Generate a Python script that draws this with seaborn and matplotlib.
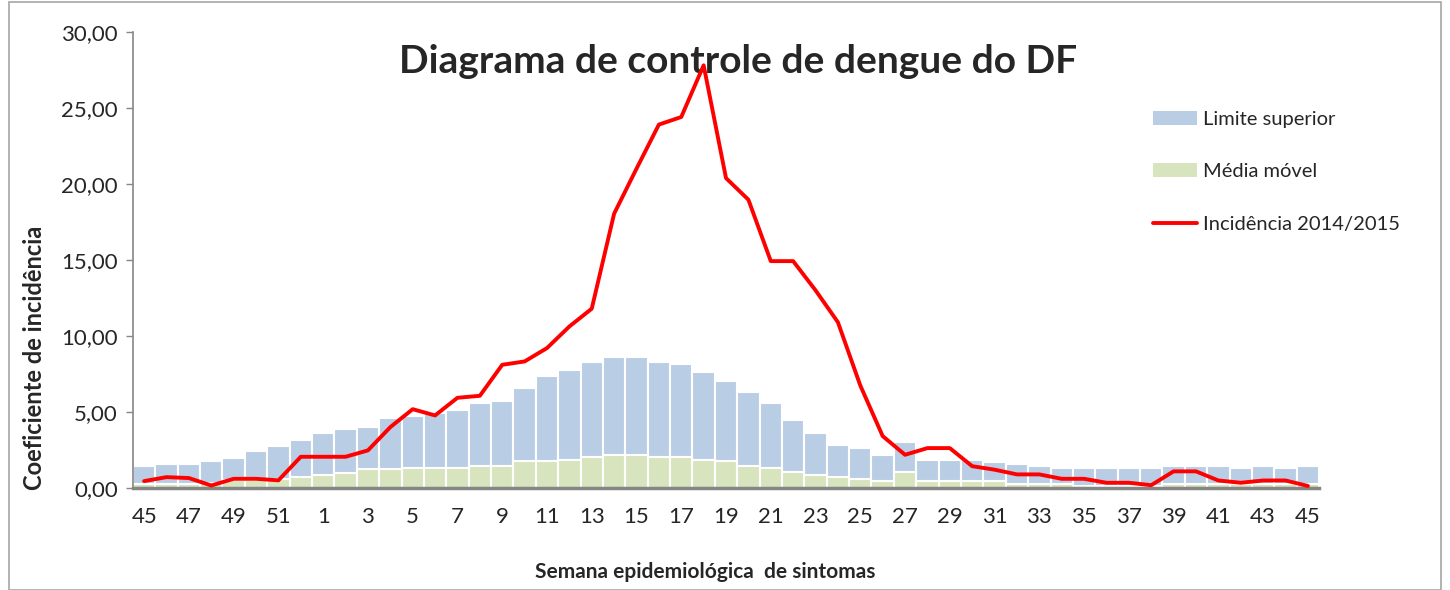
import numpy as np
import pandas as pd
import matplotlib
matplotlib.use("Agg")
import matplotlib.pyplot as plt
import seaborn as sns
from matplotlib.patches import Patch, Rectangle
from matplotlib.lines import Line2D
from matplotlib.ticker import FuncFormatter

# Semanas epidemiologicas (45/2014 ate 45/2015)
semanas = list(range(45, 53)) + list(range(1, 46))

limite_superior = [1.45, 1.6, 1.6, 1.75, 2.0, 2.45, 2.75, 3.15, 3.6, 3.85,
                   4.0, 4.6, 4.75, 4.9, 5.15, 5.6, 5.75, 6.6, 7.35, 7.75,
                   8.3, 8.6, 8.6, 8.3, 8.15, 7.6, 7.05, 6.3, 5.6, 4.45,
                   3.6, 2.85, 2.6, 2.15, 3.0, 1.85, 1.85, 1.85, 1.7, 1.6,
                   1.45, 1.3, 1.3, 1.3, 1.3, 1.3, 1.45, 1.45, 1.45, 1.3,
                   1.45, 1.3, 1.45]

media_movel = [0.28, 0.28, 0.28, 0.3, 0.5, 0.5, 0.6, 0.7, 0.87, 1.0,
               1.22, 1.22, 1.33, 1.33, 1.33, 1.46, 1.46, 1.74, 1.74, 1.87,
               2.05, 2.18, 2.18, 2.05, 2.05, 1.87, 1.74, 1.46, 1.33, 1.02,
               0.87, 0.73, 0.58, 0.45, 1.02, 0.46, 0.46, 0.46, 0.46, 0.28,
               0.28, 0.28, 0.13, 0.13, 0.13, 0.13, 0.28, 0.28, 0.28, 0.28,
               0.28, 0.28, 0.28]

incidencia = [0.45, 0.71, 0.65, 0.16, 0.6, 0.6, 0.5, 2.05, 2.05, 2.05,
              2.47, 4.0, 5.18, 4.77, 5.93, 6.06, 8.1, 8.32, 9.2, 10.62,
              11.79, 18.04, 21.0, 23.9, 24.4, 27.8, 20.38, 18.96, 14.92, 14.92,
              13.0, 10.9, 6.74, 3.41, 2.18, 2.62, 2.62, 1.43, 1.2, 0.89,
              0.89, 0.6, 0.6, 0.34, 0.34, 0.18, 1.09, 1.09, 0.49, 0.34,
              0.49, 0.49, 0.13]

df = pd.DataFrame({
    'pos': np.arange(len(semanas)),
    'Limite': limite_superior,
    'Media': media_movel,
    'Incidencia': incidencia,
})

sns.set_style('white')
plt.rcParams['font.family'] = ['Lato', 'DejaVu Sans']

fig = plt.figure(figsize=(14.5, 5.9), dpi=100)
ax = fig.add_axes([0.0917, 0.173, 0.818, 0.773])

azul = '#B9CDE5'
verde = '#D7E4BD'
vermelho = '#FF0000'

sns.barplot(data=df, x='pos', y='Limite', color=azul, saturation=1,
            width=1.0, edgecolor='white', linewidth=1.5, ax=ax)
sns.barplot(data=df, x='pos', y='Media', color=verde, saturation=1,
            width=1.0, edgecolor='white', linewidth=1.5, ax=ax)
sns.lineplot(data=df, x='pos', y='Incidencia', color=vermelho, linewidth=2.8,
             ax=ax, zorder=5)

ax.set_xlim(-0.5, len(semanas) - 0.5)
ax.set_ylim(0, 30)
ax.set_yticks(np.arange(0, 31, 5))
ax.yaxis.set_major_formatter(FuncFormatter(lambda v, p: f'{v:.2f}'.replace('.', ',')))
ax.set_xticks(df['pos'][::2])
ax.set_xticklabels([str(s) for s in semanas[::2]])
ax.tick_params(axis='y', labelsize=16, length=5, width=1, color='#868686',
               direction='out', left=True, pad=6)
ax.tick_params(axis='x', labelsize=16, length=0, pad=14)

for s in ['top', 'right']:
    ax.spines[s].set_visible(False)
ax.spines['left'].set_color('#868686')
ax.spines['left'].set_linewidth(1.2)
ax.spines['bottom'].set_color('#868686')
ax.spines['bottom'].set_linewidth(2.5)
ax.set_xlabel('')
ax.set_ylabel('')

ax.text(0.51, 0.935, 'Diagrama de controle de dengue do DF', transform=ax.transAxes,
        ha='center', va='center', fontsize=28, fontweight='bold')

fig.text(0.486, 0.03, 'Semana epidemiológica  de sintomas', ha='center', va='center',
         fontsize=15, fontweight='bold')
fig.text(0.024, 0.393, 'Coeficiente de incidência', rotation=90, ha='center',
         va='center', fontsize=17, fontweight='bold')

handles = [Patch(facecolor=azul, edgecolor='none'),
           Patch(facecolor=verde, edgecolor='none'),
           Line2D([], [], color=vermelho, linewidth=2.8)]
labels = ['Limite superior', 'Média móvel', 'Incidência 2014/2015']
fig.legend(handles, labels, loc='upper left', bbox_to_anchor=(1145 / 1450, 1 - 103 / 590),
           frameon=False, fontsize=14.5, handlelength=2.2, handleheight=0.7,
           labelspacing=1.75, handletextpad=0.3, borderaxespad=0)

# moldura do grafico
fig.patches.append(Rectangle((0.006, 0.0), 0.988, 0.996, transform=fig.transFigure,
                             fill=False, edgecolor='#A6A6A6', linewidth=1.2))

fig.savefig('out.png', dpi=100)
